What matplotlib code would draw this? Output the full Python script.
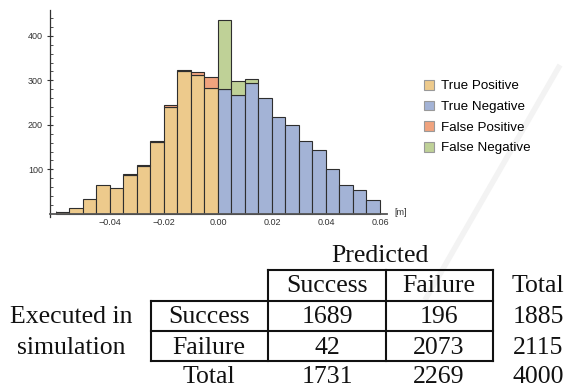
import numpy as np
import matplotlib
matplotlib.use("Agg")
import matplotlib.pyplot as plt
from matplotlib.patches import Patch
from matplotlib.lines import Line2D
import matplotlib.transforms as mtransforms

# ---- histogram data: counts per 0.005 m bin, from -0.06 to 0.06 ----
bin_edges = np.linspace(-0.06, 0.06, 25)
true_positive = [5, 14, 34, 64, 59, 88, 107, 162, 241, 320, 313, 282,
                 0, 0, 0, 0, 0, 0, 0, 0, 0, 0, 0, 0]
true_negative = [0, 0, 0, 0, 0, 0, 0, 0, 0, 0, 0, 0,
                 281, 266, 294, 261, 218, 199, 163, 143, 100, 64, 54, 30]
false_positive = [0, 0, 0, 0, 0, 1, 2, 1, 3, 4, 5, 26,
                  0, 0, 0, 0, 0, 0, 0, 0, 0, 0, 0, 0]
false_negative = [0, 0, 0, 0, 0, 0, 0, 0, 0, 0, 0, 0,
                  154, 33, 9, 0, 0, 0, 0, 0, 0, 0, 0, 0]

series_names = ["True Positive", "True Negative", "False Positive", "False Negative"]
series_colors = ["#EDCA8C", "#A3B3D6", "#F0A37E", "#BFD197"]

x_ticks = [-0.04, -0.02, 0.0, 0.02, 0.04, 0.06]
y_ticks = [100, 200, 300, 400]

# ---- confusion table ----
row_labels = ["Success", "Failure"]
col_labels = ["Success", "Failure"]
confusion = [[1689, 196],
             [42, 2073]]

W, H = 565, 389
fig = plt.figure(figsize=(W / 100, H / 100), dpi=100)


def fx(px):
    return px / W


def fy(py):
    return 1 - py / H


# faint diagonal stroke in the background
fig.add_artist(Line2D([fx(560), fx(425)], [fy(65), fy(300)], color="#f3f3f3",
                      lw=4, zorder=0, solid_capstyle="butt"))

ax = fig.add_axes([fx(50), fy(217), fx(387) - fx(50), fy(10) - fy(217)])
ax.set_facecolor("none")
ax.set_axisbelow(True)

lefts = bin_edges[:-1]
width = np.diff(bin_edges)
bottom = np.zeros(len(lefts))
for vals, color in zip([true_positive, true_negative, false_positive, false_negative],
                       series_colors):
    vals = np.asarray(vals, dtype=float)
    mask = vals > 0
    ax.bar(lefts[mask], vals[mask], width=width[mask], bottom=bottom[mask],
           align="edge", color=color, edgecolor="#2e2e2e", linewidth=0.8, zorder=2)
    bottom += vals

ax.set_xlim(-0.0622, 0.0626)
ax.set_ylim(-7.2, 458)

for s in ["top", "right"]:
    ax.spines[s].set_visible(False)
ax.spines["bottom"].set_position(("data", 0))
ax.spines["bottom"].set_color("#555555")
ax.spines["bottom"].set_linewidth(1.3)
ax.spines["left"].set_color("#333333")
ax.spines["left"].set_linewidth(0.9)

ax.set_yticks(y_ticks)
ax.set_yticks([v for v in range(20, 460, 20) if v not in y_ticks], minor=True)
ax.set_xticks(x_ticks)
ax.set_xticklabels([f"{t:.2f}".replace("-", "\u2212") for t in x_ticks])
ax.set_xticks(bin_edges, minor=True)
ax.tick_params(axis="y", which="major", direction="inout", length=4, width=0.8,
               color="#333333", labelsize=6.5, labelcolor="#333333", pad=3)
ax.tick_params(axis="y", which="minor", direction="in", length=2.2, width=0.6,
               color="#333333")
ax.tick_params(axis="x", which="both", direction="in", length=2, width=0.6,
               color="#555555", labelsize=6.5, labelcolor="#333333", pad=3)
for lab in ax.get_xticklabels() + ax.get_yticklabels():
    lab.set_family("Liberation Sans")

trans = mtransforms.blended_transform_factory(ax.transAxes, ax.transData)
ax.text(1.042, 2, "[m]", transform=trans, ha="center", va="center",
        fontsize=6.5, color="#333333", family="Liberation Sans")

handles = [Patch(facecolor=c, edgecolor="#999999", linewidth=0.8) for c in series_colors]
fig.legend(handles, series_names, loc="upper left", bbox_to_anchor=(fx(424), fy(80)),
           frameon=False, prop={"family": "Liberation Sans", "size": 9.6},
           handlelength=0.72, handleheight=0.72, handletextpad=0.55,
           labelspacing=0.62, borderpad=0, borderaxespad=0)

# ---- table ----
serif = {"family": "Liberation Serif", "size": 18.5, "color": "#111111"}
col_x = [209, 327, 439, 538]
row_base = [292, 323, 354, 383]

fig.text(fx(380), fy(262), "Predicted", ha="center", va="baseline", **serif)
for name, x in zip(col_labels + ["Total"], col_x[1:]):
    fig.text(fx(x), fy(row_base[0]), name, ha="center", va="baseline", **serif)

fig.text(fx(71), fy(row_base[1]), "Executed in", ha="center", va="baseline", **serif)
fig.text(fx(71), fy(row_base[2]), "simulation", ha="center", va="baseline", **serif)

row_totals = [sum(r) for r in confusion]
col_totals = [sum(c) for c in zip(*confusion)]
grand_total = sum(row_totals)

for i, (label, row) in enumerate(zip(row_labels, confusion)):
    y = fy(row_base[i + 1])
    fig.text(fx(col_x[0]), y, label, ha="center", va="baseline", **serif)
    for j, v in enumerate(row):
        fig.text(fx(col_x[j + 1]), y, str(v), ha="center", va="baseline", **serif)
    fig.text(fx(col_x[3]), y, str(row_totals[i]), ha="center", va="baseline", **serif)

y = fy(row_base[3])
fig.text(fx(col_x[0]), y, "Total", ha="center", va="baseline", **serif)
for j, v in enumerate(col_totals):
    fig.text(fx(col_x[j + 1]), y, str(v), ha="center", va="baseline", **serif)
fig.text(fx(col_x[3]), y, str(grand_total), ha="center", va="baseline", **serif)

line_kw = dict(color="#111111", lw=1.5, solid_capstyle="projecting")
h_lines = [(270, 268, 493), (301, 151, 493), (331, 151, 493), (361, 151, 493)]
v_lines = [(151, 301, 361), (268, 270, 361), (386, 270, 361), (493, 270, 361)]
for yy, x0, x1 in h_lines:
    fig.add_artist(Line2D([fx(x0), fx(x1)], [fy(yy), fy(yy)], **line_kw))
for xx, y0, y1 in v_lines:
    fig.add_artist(Line2D([fx(xx), fx(xx)], [fy(y0), fy(y1)], **line_kw))

fig.savefig("out.png", dpi=100)
